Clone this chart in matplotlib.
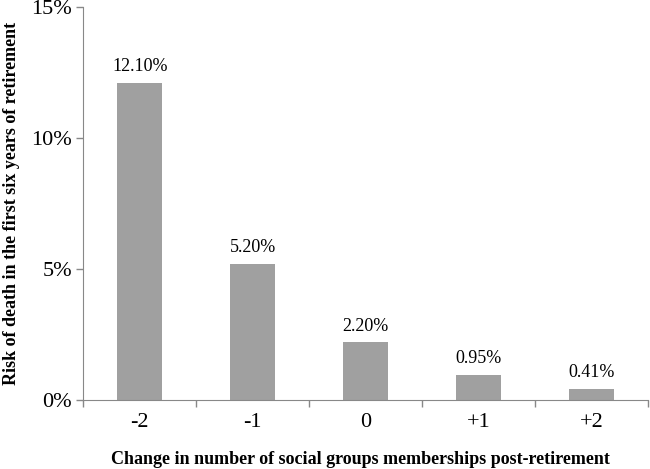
import numpy as np
import matplotlib.pyplot as plt

plt.rcParams['font.family'] = ['Liberation Serif', 'DejaVu Serif']

categories = ['-2', '-1', '0', '+1', '+2']
risk = [12.10, 5.20, 2.20, 0.95, 0.41]
value_labels = ['12.10%', '5.20%', '2.20%', '0.95%', '0.41%']

fig = plt.figure(figsize=(6.5, 4.69), dpi=100)
ax = fig.add_axes([0.128, 0.147, 0.869, 0.838])

x = np.arange(len(categories))
ax.bar(x, risk, width=0.4, color='#a0a0a0')

for xi, v, lab in zip(x, risk, value_labels):
    ax.text(xi, v + 0.3, lab, ha='center', va='bottom', fontsize=13)

ax.set_xlim(-0.5, len(categories) - 0.5)
ax.set_ylim(0, 15)
ax.set_yticks([0, 5, 10, 15])
ax.set_yticklabels(['0%', '5%', '10%', '15%'], fontsize=16)
ax.set_xticks(x)
ax.set_xticklabels(categories, fontsize=16)
ax.set_xticks(np.arange(-0.5, len(categories)), minor=True)
ax.tick_params(axis='x', which='major', length=0, pad=9)
ax.tick_params(axis='x', which='minor', length=5, color='#888888', width=1)
ax.tick_params(axis='y', length=5, color='#888888', width=1, pad=3)

for s in ['top', 'right']:
    ax.spines[s].set_visible(False)
for s in ['left', 'bottom']:
    ax.spines[s].set_color('#888888')

ax.set_xlabel('Change in number of social groups memberships post-retirement',
              fontsize=13, fontweight='bold', va='top')
ax.xaxis.set_label_coords(0.49, -0.13)
ax.set_ylabel('Risk of death in the first six years of retirement',
              fontsize=13, fontweight='bold')
ax.yaxis.set_label_coords(-0.112, 0.5)

fig.savefig('out.png', dpi=100)
